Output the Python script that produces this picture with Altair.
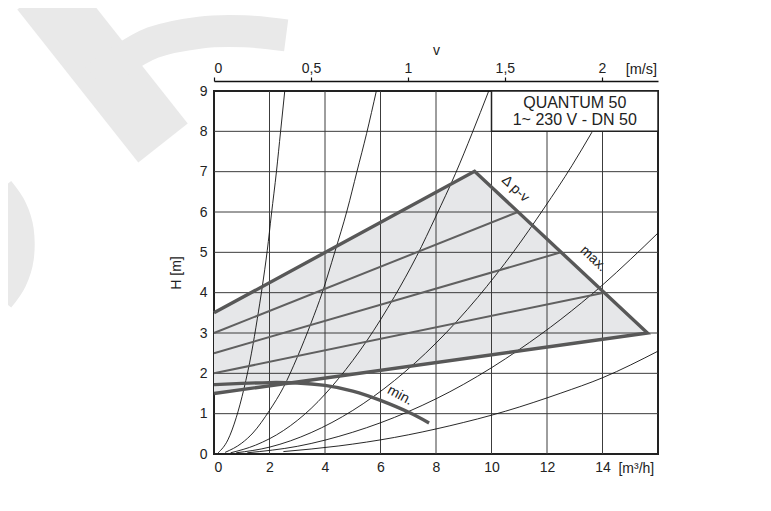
import altair as alt
import pandas as pd

# ---------------- data ----------------
# axis ticks
q_ticks = [0, 2, 4, 6, 8, 10, 12, 14]
q_grid = [2, 4, 6, 8, 10, 12, 14]
h_ticks = [0, 1, 2, 3, 4, 5, 6, 7, 8, 9]
h_grid = [1, 2, 3, 4, 5, 6, 7, 8]
v_ticks = [0, 0.5, 1, 1.5, 2]
V_MAX = 2.29  # m/s at right edge (Q = 16 m3/h)

# thin system curves (Q [m3/h], H [m])
curve_A_q = [0.15, 0.5, 0.8, 1.08, 1.35, 1.56, 1.74, 1.92, 2.07, 2.25, 2.4, 2.55]
curve_A_h = [0.03, 0.35, 0.9, 1.62, 2.5, 3.35, 4.15, 5.05, 5.95, 7.0, 8.0, 9.0]
curve_B_q = [0.4, 1.0, 1.4, 2.0, 2.5, 3.0, 3.5, 3.9, 4.35, 4.8, 5.15, 5.5, 5.85]
curve_B_h = [0.04, 0.27, 0.52, 1.08, 1.65, 2.4, 3.25, 4.0, 5.0, 6.05, 7.0, 7.95, 9.0]
curve_C_q = [0.6, 1.5, 2.5, 3.5, 4.5, 5.5, 6.5, 7.3, 8.0, 8.7, 9.3, 9.9]
curve_C_h = [0.03, 0.22, 0.58, 1.13, 1.88, 2.8, 3.9, 4.9, 5.9, 6.95, 7.95, 9.0]
curve_D_q = [0.8, 2.0, 3.5, 5.0, 6.5, 8.0, 9.5, 10.8, 11.9, 12.9, 13.62]
curve_D_h = [0.03, 0.17, 0.53, 1.08, 1.82, 2.75, 3.88, 5.02, 6.1, 7.15, 7.98]
curve_E_q = [1.2, 3.0, 5.0, 7.0, 9.0, 11.0, 12.5, 14.0, 15.0, 16.0]
curve_E_h = [0.03, 0.19, 0.54, 1.05, 1.73, 2.59, 3.34, 4.19, 4.82, 5.48]
curve_F_q = [2.5, 4.5, 6.5, 8.5, 10.5, 12.5, 14.0, 16.0]
curve_F_h = [0.06, 0.2, 0.41, 0.7, 1.06, 1.51, 1.89, 2.55]

# pump field: max curve (upper) and lower boundary
field_q = [0, 9.39, 15.62]
field_upper = [3.5, 7.01, 3.0]
field_lower = [1.5, 2.40, 3.0]
outline_q = [0, 9.39, 15.62, 0]
outline_h = [3.5, 7.01, 3.0, 1.5]

# intermediate Δp-v lines
inner_q1 = [0, 0, 0]
inner_h1 = [3.0, 2.5, 2.0]
inner_q2 = [10.95, 12.5, 14.05]
inner_h2 = [6.0, 5.0, 4.0]

# min curve
min_q = [0, 1, 2, 3, 4, 5, 6, 7, 7.75]
min_h = [1.72, 1.75, 1.77, 1.76, 1.70, 1.56, 1.33, 1.04, 0.77]

# watermark strokes (light grey, outside the plot)
wm_stem_q = [-6.198, -1.838]
wm_stem_h = [11.505, 7.711]
wm_arc_q = [-4.25, -3.6, -2.2, -0.5, 1.1, 2.6]
wm_arc_h = [9.3, 9.65, 10.2, 10.45, 10.48, 10.38]
wm_left_q = [-7.7, -7.25, -7.0, -7.0, -7.25, -7.7]
wm_left_h = [6.55, 6.1, 5.55, 4.85, 4.3, 3.85]

FONT = "Liberation Sans"
TXT = "#222222"
THICK = "#585858"

xscale = alt.Scale(domain=[0, 16], nice=False, zero=False)
yscale = alt.Scale(domain=[0, 9], nice=False, zero=False)
xaxis = alt.Axis(values=q_ticks, title=None, ticks=False, domain=False, grid=False,
                 labelPadding=6, labelFontSize=14, labelColor=TXT, labelFont=FONT)
yaxis = alt.Axis(values=h_ticks, title="H [m]", ticks=False, domain=False, grid=False,
                 labelPadding=7, labelFontSize=14, labelColor=TXT, labelFont=FONT,
                 titlePadding=16, titleFontSize=14, titleFontWeight="normal",
                 titleColor=TXT, titleFont=FONT)


def X(f="Q"):
    return alt.X(f"{f}:Q", scale=xscale, axis=xaxis)


def Y(f="H"):
    return alt.Y(f"{f}:Q", scale=yscale, axis=yaxis)


# ---------------- layers ----------------
def wm_line(qs, hs, width):
    df = pd.DataFrame({"Q": qs, "H": hs, "i": list(range(len(qs)))})
    return alt.Chart(df).mark_line(color="#e9e9e9", strokeWidth=width, strokeCap="butt",
                                   interpolate="cardinal").encode(
        x=X(), y=Y(), order="i:Q")


wm = [wm_line(wm_stem_q, wm_stem_h, 63), wm_line(wm_arc_q, wm_arc_h, 32),
      wm_line(wm_left_q, wm_left_h, 28)]

field_df = pd.DataFrame({"Q": field_q, "H": field_upper, "H2": field_lower})
field = alt.Chart(field_df).mark_area(color="#e6e7e9", opacity=1).encode(
    x=X(), y=Y(), y2="H2:Q")

vgrid_df = pd.DataFrame({"Q": q_grid, "H": [0] * len(q_grid), "H2": [9] * len(q_grid)})
vgrid = alt.Chart(vgrid_df).mark_rule(color="#3c3c3c", strokeWidth=1).encode(
    x=X(), y=Y(), y2="H2:Q")
hgrid_df = pd.DataFrame({"H": h_grid, "Q": [0] * len(h_grid), "Q2": [16] * len(h_grid)})
hgrid = alt.Chart(hgrid_df).mark_rule(color="#3c3c3c", strokeWidth=1).encode(
    x=X(), x2="Q2:Q", y=Y())

rows = []
for name, qs, hs in [("A", curve_A_q, curve_A_h), ("B", curve_B_q, curve_B_h),
                     ("C", curve_C_q, curve_C_h), ("D", curve_D_q, curve_D_h),
                     ("E", curve_E_q, curve_E_h), ("F", curve_F_q, curve_F_h)]:
    for q, h in zip(qs, hs):
        rows.append({"Q": q, "H": h, "curve": name})
curves_df = pd.DataFrame(rows)
curves = alt.Chart(curves_df).mark_line(color="#111111", strokeWidth=0.9,
                                        interpolate="monotone").encode(
    x=X(), y=Y(), detail="curve:N")

inner_df = pd.DataFrame({"Q": inner_q1, "H": inner_h1, "Q2": inner_q2, "H2": inner_h2})
inner = alt.Chart(inner_df).mark_rule(color="#606060", strokeWidth=2).encode(
    x=X(), y=Y(), x2="Q2:Q", y2="H2:Q")

outline_df = pd.DataFrame({"Q": outline_q, "H": outline_h, "i": list(range(len(outline_q)))})
outline = alt.Chart(outline_df).mark_line(color=THICK, strokeWidth=3.4,
                                          strokeJoin="miter").encode(
    x=X(), y=Y(), order="i:Q")

min_df = pd.DataFrame({"Q": min_q, "H": min_h})
minc = alt.Chart(min_df).mark_line(color=THICK, strokeWidth=3.4,
                                   interpolate="natural").encode(x=X(), y=Y())

box_df = pd.DataFrame({"Q": [10], "Q2": [16], "H": [8], "H2": [9]})
box = alt.Chart(box_df).mark_rect(fill="white", stroke="#222222", strokeWidth=1.5).encode(
    x=X(), x2="Q2:Q", y=Y(), y2="H2:Q")

box_txt_df = pd.DataFrame({"Q": [13, 13], "H": [8.71, 8.27],
                           "t": ["QUANTUM 50", "1~ 230 V - DN 50"]})
box_txt = alt.Chart(box_txt_df).mark_text(font=FONT, fontSize=16, color=TXT,
                                          baseline="middle").encode(
    x=X(), y=Y(), text="t:N")


def label(q, h, t, angle, dy=0):
    df = pd.DataFrame({"Q": [q], "H": [h], "t": [t]})
    return alt.Chart(df).mark_text(font=FONT, fontSize=14, color=TXT, angle=angle,
                                   baseline="middle", dy=dy).encode(
        x=X(), y=Y(), text="t:N")


lab_dpv = label(10.86, 6.57, "Δ p-v", 43)
lab_max = label(13.67, 4.84, "max.", 43)
lab_min = label(6.7, 1.45, "min.", 28)

unit_df = pd.DataFrame({"Q": [15.22], "H": [0], "t": ["[m³/h]"]})
unit_q = alt.Chart(unit_df).mark_text(font=FONT, fontSize=14, color=TXT,
                                      baseline="middle", dy=15).encode(
    x=X(), y=Y(), text="t:N")
unitv_df = pd.DataFrame({"Q": [15.4], "H": [9], "t": ["[m/s]"]})
unit_v = alt.Chart(unitv_df).mark_text(font=FONT, fontSize=14.5, color=TXT,
                                       baseline="middle", dy=-21).encode(
    x=X(), y=Y(), text="t:N")

main = alt.layer(*wm, field, vgrid, hgrid, curves, inner, outline, minc, box, box_txt,
                 lab_dpv, lab_max, lab_min, unit_q, unit_v)

vdf = pd.DataFrame({"v": v_ticks})
vchart = alt.Chart(vdf).mark_point(opacity=0).encode(
    x=alt.X("v:Q", scale=alt.Scale(domain=[0, V_MAX], nice=False, zero=False),
            axis=alt.Axis(orient="top", values=v_ticks, title="v", offset=10,
                          tickSize=4, tickColor="#111111", tickWidth=1.2,
                          domainColor="#111111", domainWidth=1.5, grid=False,
                          labelPadding=2, labelFontSize=14, labelColor=TXT, labelFont=FONT,
                          labelExpr="replace(format(datum.value, '.1~f'), '.', ',')",
                          titlePadding=4, titleFontSize=14, titleFontWeight="normal",
                          titleColor=TXT, titleFont=FONT)))

chart = alt.layer(main, vchart).resolve_scale(x="independent").properties(
    width=444, height=363,
    autosize=alt.AutoSizeParams(type="none"),
    padding={"left": 206, "top": 83, "right": 105, "bottom": 49},
).configure_view(stroke="#222222", strokeWidth=2)

chart.save("out.html", embed_options={"renderer": "svg", "actions": False})
